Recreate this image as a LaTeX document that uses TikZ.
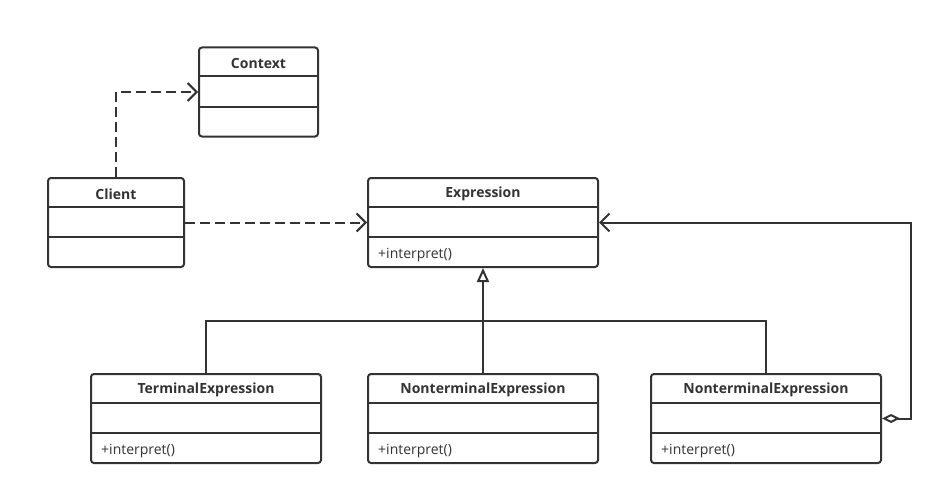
\documentclass[tikz,border=0pt]{standalone}
\usepackage{fontspec}
\setmainfont{Open Sans}
\usetikzlibrary{arrows.meta}
\definecolor{ink}{HTML}{333333}
\begin{document}
\begin{tikzpicture}[x=1pt,y=-1pt,
  umlbox/.style={draw=ink, line width=2pt, rounded corners=3pt, minimum height=89pt, inner sep=0pt},
  umltitle/.style={text=ink, font=\fontsize{14}{16}\selectfont\bfseries, inner sep=0pt},
  umlop/.style={text=ink, font=\fontsize{14}{16}\selectfont, inner sep=0pt, anchor=west},
  divider/.style={draw=ink, line width=2pt},
  conn/.style={draw=ink, line width=2pt},
  dep/.style={conn, dash pattern=on 10pt off 5pt, -{Straight Barb[length=9pt,width=18pt,line width=2pt]}},
  gen/.style={conn, -{Triangle[open,length=14pt,width=12pt,line width=2pt]}},
  agg/.style={conn, {Diamond[open,length=18pt,width=9pt,line width=2pt]}-{Straight Barb[length=9pt,width=18pt,line width=2pt]}}
]
\useasboundingbox[fill=white] (0,0) rectangle (943,495);

% boxes
\node[umlbox, minimum width=119pt] (context) at (258.5,92) {};
\node[umlbox, minimum width=136pt] (client) at (116,222.5) {};
\node[umlbox, minimum width=230pt] (expr) at (483,222.5) {};
\node[umlbox, minimum width=230pt] (term) at (206,418.5) {};
\node[umlbox, minimum width=230pt] (nt1) at (483,418.5) {};
\node[umlbox, minimum width=230pt] (nt2) at (766,418.5) {};

% dividers
\foreach \b in {context,client,expr,term,nt1,nt2}{
  \draw[divider] ([yshift=-30pt]\b.north west) -- ([yshift=-30pt]\b.north east);
  \draw[divider] ([yshift=-60pt]\b.north west) -- ([yshift=-60pt]\b.north east);
}

% titles
\node[umltitle] (contextT) at ([yshift=-17pt]context.north) {Context};
\node[umltitle] (clientT) at ([yshift=-17pt]client.north) {Client};
\node[umltitle] (exprT) at ([yshift=-17pt]expr.north) {Expression};
\node[umltitle] (termT) at ([yshift=-17pt]term.north) {TerminalExpression};
\node[umltitle] (nt1T) at ([yshift=-17pt]nt1.north) {NonterminalExpression};
\node[umltitle] (nt2T) at ([yshift=-17pt]nt2.north) {NonterminalExpression};

% operations
\node[umlop] (exprO) at ([xshift=11pt,yshift=13pt]expr.south west) {+interpret()};
\node[umlop] (termO) at ([xshift=11pt,yshift=13pt]term.south west) {+interpret()};
\node[umlop] (nt1O) at ([xshift=11pt,yshift=13pt]nt1.south west) {+interpret()};
\node[umlop] (nt2O) at ([xshift=11pt,yshift=13pt]nt2.south west) {+interpret()};

% dependencies
\draw[dep] (client.north) |- (context.west);
\draw[dep] (client.east) -- (expr.west);

% generalization
\coordinate (bus) at (483,321);
\draw[gen] (nt1.north) -- (expr.south);
\draw[conn] (term.north) |- (bus) -| (nt2.north);

% aggregation
\coordinate (c1) at (911,418.5);
\coordinate (c2) at (911,222.5);
\draw[agg] (nt2.east) -- (c1) -- (c2) -- (expr.east);
\end{tikzpicture}
\end{document}
